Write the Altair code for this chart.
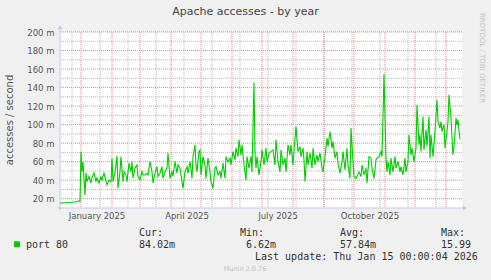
import altair as alt
import pandas as pd

# ---------------- data ----------------
START = "2024-12-11"
day_offsets = [
    0, 4, 8, 12, 16, 19, 20,
    21, 22, 23, 25, 26, 27, 29, 31, 32, 34, 36, 37, 39, 41, 42, 44, 46, 47, 49, 51, 52, 53, 55, 57, 58,
    60, 61, 63, 64, 66, 67, 69, 71, 72, 73, 75, 77, 78, 80, 82, 83, 85, 87, 88, 90, 92, 93, 95, 97, 98,
    100, 102, 103, 105, 107, 108, 110, 112, 113, 115, 117, 118, 120, 122, 123, 125, 127, 128, 130, 132,
    133, 135, 136, 137, 139, 140, 141, 143, 145, 146, 148, 150, 151, 153, 155, 156, 158, 160, 161, 163,
    165, 166, 168, 170, 171, 173, 175, 176, 178, 179, 181, 182, 184, 186, 187, 189, 191, 192, 194, 195,
    196, 197, 199, 201, 202, 204, 206, 207, 209, 213, 215, 216, 218, 220, 221, 223, 225, 226, 228, 230,
    231, 233, 235, 236, 238, 240, 241, 243, 244, 245, 247, 248, 250, 252, 253, 255, 257, 258, 260, 262,
    263, 265, 267, 268, 270, 272, 273, 275, 277, 278, 280, 282, 283, 285, 287, 288, 290, 291, 293, 294,
    296, 297, 299, 301, 302, 304, 306, 307, 309, 311, 312, 314, 316, 317, 319, 321, 322, 324, 326, 327,
    328, 330, 331, 333, 335, 336, 338, 340, 341, 343, 345, 346, 348, 349, 351, 352, 354, 356, 357, 359,
    360, 361, 363, 364, 366, 367, 369, 370, 371, 373, 375, 376, 377, 378, 380, 381, 382, 384, 385, 387,
    388, 389, 391, 392, 393, 394, 396, 397, 398, 399, 400,
]
accesses_m = [
    15.0, 15.6, 15.8, 16.2, 16.8, 17.8, 17.0,
    71, 49, 60, 24, 48, 38.5, 44, 37, 42.8, 48, 39, 42.4, 37, 44, 40, 47.5, 38.5, 35, 40, 38.5, 63.8, 38.5, 48, 66.2, 31.6,
    49, 65.5, 38.5, 49, 45.7, 38.5, 58.4, 49, 60, 42.1, 53, 56.5, 43.9, 40.3, 49.3, 45.7, 45.7, 47.5, 45.7, 60, 49, 36.7, 47.5, 54.7, 43.9,
    47.5, 54.7, 42, 49, 53, 69.2, 42, 49, 44, 60, 47.5, 56.5, 53, 38.5, 31.3, 49, 54.7, 47.5, 60, 42,
    65.5, 78.2, 56.5, 49, 70.9, 72.7, 45.7, 65.5, 56.5, 42, 63.8, 49, 38.5, 31.3, 53, 54.7, 45.7, 49, 42, 58.4,
    42, 65.5, 60, 63.8, 56.5, 70.9, 62, 74.6, 65.5, 83.6, 67.3, 78.2, 56.5, 40.3, 65.5, 53, 65.5, 49, 145.5, 69.2,
    53, 65.5, 45.7, 60, 72.7, 56.5, 74.6, 60, 69.2, 72.7, 56.5, 83.6, 60, 49, 72.7, 56.5, 63.8, 49, 78.2, 67.3,
    78.2, 56.5, 85.4, 98, 70.9, 76.4, 65.5, 74.6, 62, 38.5, 70.9, 56.5, 69.2, 53, 74.6, 56.5, 67.3, 60, 69.2, 53,
    49, 65.5, 85.4, 76.4, 92.6, 74.6, 81.7, 63.8, 70.9, 58.4, 47.5, 60, 70.9, 51.1, 74.6, 56.5, 42, 96.2, 60, 43.9,
    42, 43.9, 49, 43.9, 56.5, 45.7, 53, 36.7, 65.5, 63.8, 53, 42, 62, 63.8, 65.5, 70.9, 65.5, 154.7, 63.8, 49,
    60, 45.7, 63.8, 49, 65.5, 53, 60, 49, 54.7, 45.7, 63.8, 49, 60, 89, 67.3, 74.6, 60, 74.6, 121.4, 78.2,
    89, 70.9, 108.8, 72.7, 94.4, 76.4, 108.8, 63.8, 89, 65.5, 92.6, 110.6, 126.9, 103.4, 96.2, 103.4, 92.6, 99.8, 74.6, 92.6,
    103.4, 132.3, 107, 85.4, 67.3, 76.4, 107, 99.8, 105.2, 92.6, 84.0,
]

major_y = [20, 40, 60, 80, 100, 120, 140, 160, 180, 200]
minor_y = [30, 50, 70, 90, 110, 130, 150, 170, 190]
month_lines = ["2025-01-01", "2025-02-01", "2025-03-01", "2025-04-01", "2025-05-01",
               "2025-06-01", "2025-07-01", "2025-08-01", "2025-09-01", "2025-10-01",
               "2025-11-01", "2025-12-01", "2026-01-01"]
minor_x = ["2024-12-23", "2025-01-20", "2025-02-17", "2025-03-17", "2025-04-14",
           "2025-05-12", "2025-06-09", "2025-07-07", "2025-08-04", "2025-09-01",
           "2025-09-29", "2025-10-27", "2025-11-24", "2025-12-22"]
label_months = [1, 4, 7, 10]

stat_names = ["Cur:", "Min:", "Avg:", "Max:"]
stat_values = ["84.02m", "6.62m", "57.84m", "15.99"]
series_name = "port 80"
title_text = "Apache accesses - by year"
y_title = "accesses / second"
last_update = "Last update: Thu Jan 15 00:00:04 2026"
footer = "Munin 2.0.76"
side_text = "RRDTOOL / TOBI OETIKER"

# ---------------- build ----------------
dates = (pd.Timestamp(START) + pd.to_timedelta(day_offsets, unit="D")).strftime("%Y-%m-%dT%H:%M:%SZ")
line_df = pd.DataFrame({"date": list(dates), "value": accesses_m})

W, H = 402, 176
x_scale = alt.Scale(type="utc", domain=[alt.DateTime(year=2024, month=12, date=11, utc=True),
                                        alt.DateTime(year=2026, month=1, date=17, utc=True)])
y_scale = alt.Scale(domain=[10, 200], nice=False, zero=False)

GRID_GRAY = "#b8b8b8"
GRID_RED = "#f08080"
AXIS_BLUE = "#c4c4f4"
TXT = "#555555"
FONT = "DejaVu Sans"
MONO = "DejaVu Sans Mono"

label_vals = [alt.DateTime(year=2025, month=m, date=16, hours=12, utc=True) for m in label_months]

x_axis = alt.Axis(values=label_vals, format="%B %Y", title=None, grid=False, ticks=False,
                  domain=False, labelFont=FONT, labelFontSize=8.5, labelColor=TXT,
                  labelPadding=3, labelOverlap=False, labelFlush=False)
y_axis = alt.Axis(values=major_y, labelExpr="datum.value + ' m'", title=None, grid=False,
                  ticks=False, domain=False, labelFont=FONT, labelFontSize=8.5,
                  labelColor=TXT, labelPadding=6)

minor_h = alt.Chart(pd.DataFrame({"value": minor_y})).mark_rule(
    color=GRID_GRAY, strokeWidth=1, strokeDash=[1, 1]).encode(
    y=alt.Y("value:Q", scale=y_scale, axis=y_axis))
major_h = alt.Chart(pd.DataFrame({"value": major_y})).mark_rule(
    color=GRID_RED, strokeWidth=1, strokeDash=[1, 1]).encode(
    y=alt.Y("value:Q", scale=y_scale, axis=y_axis))
minor_v = alt.Chart(pd.DataFrame({"date": minor_x})).mark_rule(
    color=GRID_GRAY, strokeWidth=1, strokeDash=[1, 1]).encode(
    x=alt.X("date:T", scale=x_scale, axis=x_axis))
major_v = alt.Chart(pd.DataFrame({"date": month_lines})).mark_rule(
    color=GRID_RED, strokeWidth=1, strokeDash=[1, 1]).encode(
    x=alt.X("date:T", scale=x_scale, axis=x_axis))

line = alt.Chart(line_df).mark_line(color="#00cc00", strokeWidth=1.1).encode(
    x=alt.X("date:T", scale=x_scale, axis=x_axis),
    y=alt.Y("value:Q", scale=y_scale, axis=y_axis),
)

one = alt.Data(values=[{"k": 0}])

x_axis_line = alt.Chart(one).mark_rule(color=AXIS_BLUE, strokeWidth=1).encode(
    x=alt.value(-2), x2=alt.value(W + 2), y=alt.value(H))
x_arrow = alt.Chart(one).mark_point(shape="triangle-right", filled=True, color=AXIS_BLUE,
                                    size=22, opacity=1).encode(x=alt.value(W + 3), y=alt.value(H))
y_axis_line = alt.Chart(one).mark_rule(color=AXIS_BLUE, strokeWidth=1).encode(
    x=alt.value(0), y=alt.value(-4), y2=alt.value(H + 2))
y_arrow = alt.Chart(one).mark_point(shape="triangle-up", filled=True, color=AXIS_BLUE,
                                    size=22, opacity=1).encode(x=alt.value(0), y=alt.value(-5))


def txt(text, x, y, size=10, font=MONO, color="#333333", align="left", angle=0):
    kw = dict(text=text, align=align, baseline="middle", font=font, fontSize=size, color=color)
    if angle:
        kw["angle"] = angle
    return alt.Chart(one).mark_text(**kw).encode(x=alt.value(x), y=alt.value(y))


OX, OY = 60, 32  # plot origin on the page
texts = [
    txt(title_text, 245.5 - OX, 12 - OY, size=11, font=FONT, color="#444444", align="center"),
    txt(y_title, 10 - OX, 120 - OY, size=10, font=FONT, color=TXT, align="center", angle=270),
    txt(side_text, 482 - OX, 58 - OY, size=7, font=FONT, color="#c4c4c4", align="center", angle=90),
    txt(series_name, 26 - OX, 244.5 - OY),
    txt(last_update, 255 - OX, 256.5 - OY),
    txt(footer, 245 - OX, 268.5 - OY, size=6.5, font=FONT, color="#c4c4c4", align="center"),
]
stat_x = [139, 240, 340, 441]
val_x = [139, 246, 340, 441]
for name, val, sx, vx in zip(stat_names, stat_values, stat_x, val_x):
    texts.append(txt(name, sx - OX, 233 - OY))
    texts.append(txt(val, vx - OX, 244.5 - OY))

swatch = alt.Chart(one).mark_square(color="#00cc00", size=36, opacity=1).encode(
    x=alt.value(17 - OX), y=alt.value(244.3 - OY))

chart = alt.layer(
    minor_h, minor_v, major_h, major_v, line,
    x_axis_line, x_arrow, y_axis_line, y_arrow, swatch, *texts
).properties(
    width=W, height=H,
    autosize=alt.AutoSizeParams(type="none"),
    padding={"left": OX, "top": OY, "right": 491 - OX - W, "bottom": 280 - OY - H},
    background="#f0f0f0",
).configure_view(fill="white", strokeWidth=0)

chart.save("out.html", embed_options={"renderer": "svg", "actions": False})
